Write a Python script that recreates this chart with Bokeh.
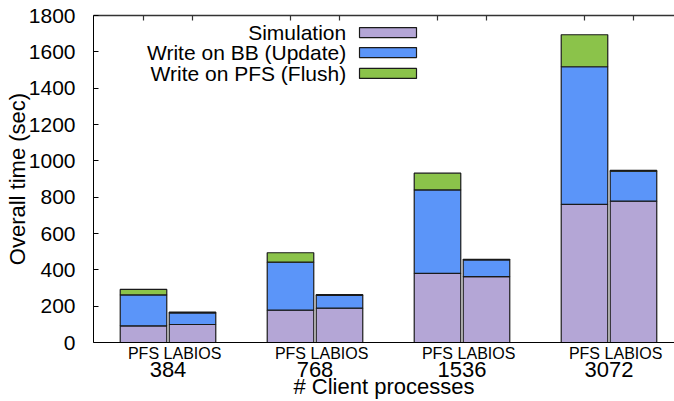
from bokeh.plotting import figure
from bokeh.models import ColumnDataSource, FixedTicker, LinearAxis, Range1d
from bokeh.core.properties import value
from bokeh.embed import file_html
from bokeh.resources import INLINE

# ---- data ----
groups = ["384", "768", "1536", "3072"]
systems = ["PFS", "LABIOS"]
series = ["Simulation", "Write on BB (Update)", "Write on PFS (Flush)"]
sim_pfs = [92, 178, 381, 760]
bb_pfs = [170, 264, 459, 758]
flush_pfs = [30, 52, 92, 176]
sim_labios = [99, 189, 363, 778]
bb_labios = [64, 70, 92, 165]
flush_labios = [4, 4, 3, 4]
colors = ["#b4a6d6", "#5b95f9", "#8bc34a"]
y_ticks = list(range(0, 1801, 200))

FONT = "Liberation Sans"
Y_MAX = 1800

# ---- layout of bars ----
xs, sim, bb, fl = [], [], [], []
for i, g in enumerate(groups):
    for j, s in enumerate(systems):
        xs.append(3 * i + 1 + j)
        if s == "PFS":
            sim.append(sim_pfs[i]); bb.append(bb_pfs[i]); fl.append(flush_pfs[i])
        else:
            sim.append(sim_labios[i]); bb.append(bb_labios[i]); fl.append(flush_labios[i])
src = ColumnDataSource(dict(x=xs, sim=sim, bb=bb, fl=fl))

p = figure(width=674, height=401, output_backend="svg", toolbar_location=None,
           x_range=Range1d(-0.0204, 11.837), y_range=Range1d(0, Y_MAX),
           min_border_left=93, min_border_right=0, min_border_top=15, min_border_bottom=59)
p.outline_line_color = None
p.xgrid.visible = False
p.ygrid.visible = False
p.background_fill_color = "white"
p.border_fill_color = "white"

p.vbar_stack(["sim", "bb", "fl"], x="x", width=0.95, color=colors,
             line_color="#1a1a1a", line_width=1.2, source=src)

# ---- y axis ----
ya = p.yaxis[0]
ya.ticker = FixedTicker(ticks=y_ticks)
ya.major_tick_in = 5
ya.major_tick_out = 0
ya.minor_tick_line_color = None
ya.major_label_text_font = FONT
ya.major_label_text_font_size = "21px"
ya.major_label_text_color = "black"
ya.major_label_standoff = 18
ya.axis_label = "Overall time (sec)"
ya.axis_label_text_font = FONT
ya.axis_label_text_font_size = "22px"
ya.axis_label_text_font_style = "normal"
ya.axis_label_text_color = "black"
ya.axis_label_standoff = -4
ya.axis_line_color = "black"
ya.major_tick_line_color = "black"

# ---- bottom axis: PFS / LABIOS ----
xa = p.xaxis[0]
xa.ticker = FixedTicker(ticks=xs)
xa.major_label_overrides = {x: systems[k % 2] for k, x in enumerate(xs)}
xa.major_tick_in = 0
xa.major_tick_out = 0
xa.minor_tick_line_color = None
xa.major_label_text_font = FONT
xa.major_label_text_font_size = "16px"
xa.major_label_text_color = "black"
xa.major_label_standoff = 2
xa.axis_line_color = "black"

# ---- bottom axis 2: group labels + title ----
gx = [3 * i + 1.5 for i in range(len(groups))]
ga = LinearAxis(ticker=FixedTicker(ticks=gx),
                major_label_overrides={x: groups[i] for i, x in enumerate(gx)})
ga.axis_line_color = None
ga.major_tick_line_color = None
ga.minor_tick_line_color = None
ga.major_label_standoff = -9
ga.major_label_text_font = FONT
ga.major_label_text_font_size = "22px"
ga.major_label_text_color = "black"
ga.axis_label = "# Client processes"
ga.axis_label_text_font = FONT
ga.axis_label_text_font_size = "22px"
ga.axis_label_text_font_style = "normal"
ga.axis_label_text_color = "black"
ga.axis_label_standoff = -6
p.add_layout(ga, "below")

# ---- top border line (no ticks/labels on the axis itself) ----
ta = LinearAxis(ticker=FixedTicker(ticks=[]))
ta.minor_tick_line_color = None
ta.major_tick_line_color = None
ta.axis_line_color = "#333333"
ta.axis_line_width = 1.5
p.add_layout(ta, "above")

# mirrored top ticks at bar centres (5 px long)
tick_len = 5 * Y_MAX / 327.0
p.segment(x0=xs, y0=[Y_MAX] * len(xs), x1=xs, y1=[Y_MAX - tick_len] * len(xs),
          line_color="#333333", line_width=1.2)

# ---- legend (gnuplot style: text left of swatch) ----
leg_x = [5.99] * 3
leg_y = [1706, 1596, 1481]
p.rect(x=leg_x, y=leg_y, width=57, height=10, width_units="screen", height_units="screen",
       fill_color=colors, line_color="#1a1a1a", line_width=1.2)
p.text(x=[5.137] * 3, y=leg_y, text=series, text_align="right", text_baseline="middle",
       text_font=value(FONT), text_font_size="21px", text_color="black")

open("out.html", "w").write(file_html(p, INLINE))
